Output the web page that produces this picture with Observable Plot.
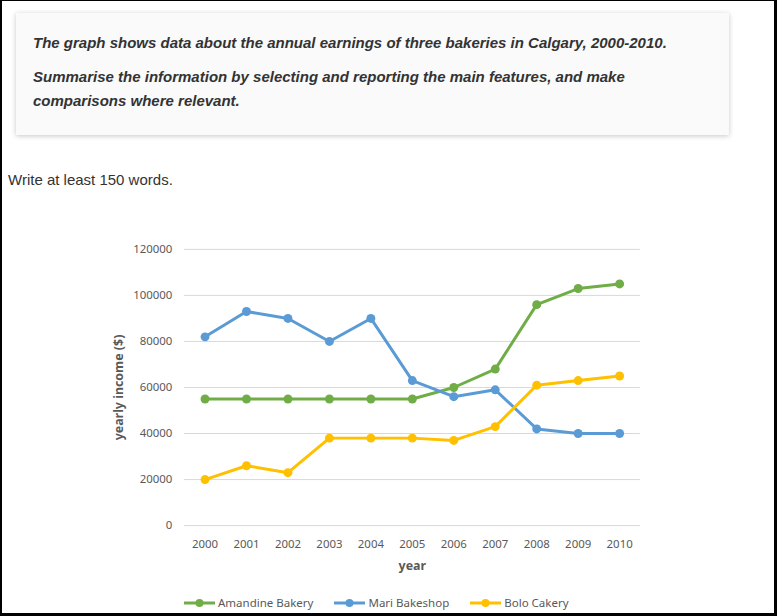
<!DOCTYPE html>
<html>
<head>
<meta charset="utf-8">
<script src="https://cdn.jsdelivr.net/npm/d3@7"></script>
<script src="https://cdn.jsdelivr.net/npm/@observablehq/plot@0.6"></script>
<style>
  html, body { margin: 0; padding: 0; background: #fff; }
  #frame {
    position: relative; width: 777px; height: 616px; box-sizing: border-box;
    border-style: solid; border-color: #000; border-width: 1px 3px 3px 2px;
    overflow: hidden; font-family: "Liberation Sans", Arial, sans-serif;
  }
  #task {
    position: absolute; left: 14px; top: 12px; width: 713px; height: 122px;
    background: #fafafa; box-shadow: 0 1px 5px rgba(0,0,0,0.22);
    color: #333; font-weight: bold; font-style: italic; font-size: 15px;
  }
  #task p { margin: 0; position: absolute; left: 17px; line-height: 24px; }
  #write { position: absolute; left: 6px; top: 170px; font-size: 15px; color: #333; }
  #chart { position: absolute; left: -2px; top: 231px; }
  #legend {
    position: absolute; left: 182px; top: 594px; display: flex;
    font-family: "Noto Sans", sans-serif; font-size: 11.5px; color: #595959; gap: 21px;
  }
  #legend .item { display: flex; align-items: center; }
  #legend svg { margin-right: 3px; }
</style>
</head>
<body>
<div id="frame">
  <div id="task">
    <p style="top:18px">The graph shows data about the annual earnings of three bakeries in Calgary, 2000-2010.</p>
    <p style="top:52px">Summarise the information by selecting and reporting the main features, and make<br>comparisons where relevant.</p>
  </div>
  <div id="write">Write at least 150 words.</div>
  <div id="chart"></div>
  <div id="legend"></div>
</div>
<script>
const years = [2000, 2001, 2002, 2003, 2004, 2005, 2006, 2007, 2008, 2009, 2010];
const seriesNames = ["Amandine Bakery", "Mari Bakeshop", "Bolo Cakery"];
const seriesColors = ["#70AD47", "#5B9BD5", "#FFC000"];
const amandine = [55000, 55000, 55000, 55000, 55000, 55000, 60000, 68000, 96000, 103000, 105000];
const mari = [82000, 93000, 90000, 80000, 90000, 63000, 56000, 59000, 42000, 40000, 40000];
const bolo = [20000, 26000, 23000, 38000, 38000, 38000, 37000, 43000, 61000, 63000, 65000];
const yTicks = [0, 20000, 40000, 60000, 80000, 100000, 120000];

const seriesValues = [amandine, mari, bolo];
const data = [];
seriesNames.forEach((name, i) => {
  years.forEach((yr, j) => data.push({series: name, year: yr, value: seriesValues[i][j]}));
});

const tickFont = "Noto Sans, sans-serif";
const chart = Plot.plot({
  width: 779,
  height: 354,
  marginLeft: 185,
  marginRight: 135,
  marginTop: 17,
  marginBottom: 59,
  style: {fontFamily: tickFont, fontSize: "11.5px", color: "#595959", background: "transparent"},
  x: {domain: [1999.5, 2010.5]},
  y: {domain: [0, 120000]},
  color: {domain: seriesNames, range: seriesColors},
  marks: [
    Plot.gridY(yTicks, {stroke: "#d9d9d9", strokeOpacity: 1, strokeWidth: 1}),
    Plot.axisY(yTicks, {tickSize: 0, tickPadding: 12, tickFormat: d => String(d), label: null, fill: "#595959", fontSize: 11.5}),
    Plot.axisX(years, {tickSize: 0, tickPadding: 14, tickFormat: d => String(d), label: null, fill: "#595959", fontSize: 11.5}),
    Plot.text(["year"], {frameAnchor: "bottom", dy: 45, text: d => d, fontWeight: "bold", fontSize: 12.5, fill: "#595959"}),
    Plot.text(["yearly income ($)"], {frameAnchor: "left", dx: -66, rotate: -90, textAnchor: "middle", text: d => d, fontWeight: "bold", fontSize: 12.5, fill: "#595959"}),
    Plot.line(data, {x: "year", y: "value", z: "series", stroke: "series", strokeWidth: 3, strokeLinejoin: "round", strokeLinecap: "round"}),
    Plot.dot(data, {x: "year", y: "value", fill: "series", r: 4.5})
  ]
});
document.getElementById("chart").appendChild(chart);

const legend = document.getElementById("legend");
seriesNames.forEach((name, i) => {
  const item = document.createElement("div");
  item.className = "item";
  item.innerHTML = `<svg width="31" height="10"><line x1="0" x2="31" y1="5" y2="5" stroke="${seriesColors[i]}" stroke-width="3"/><circle cx="15.5" cy="5" r="4" fill="${seriesColors[i]}"/></svg><span>${name}</span>`;
  legend.appendChild(item);
});
</script>
</body>
</html>
